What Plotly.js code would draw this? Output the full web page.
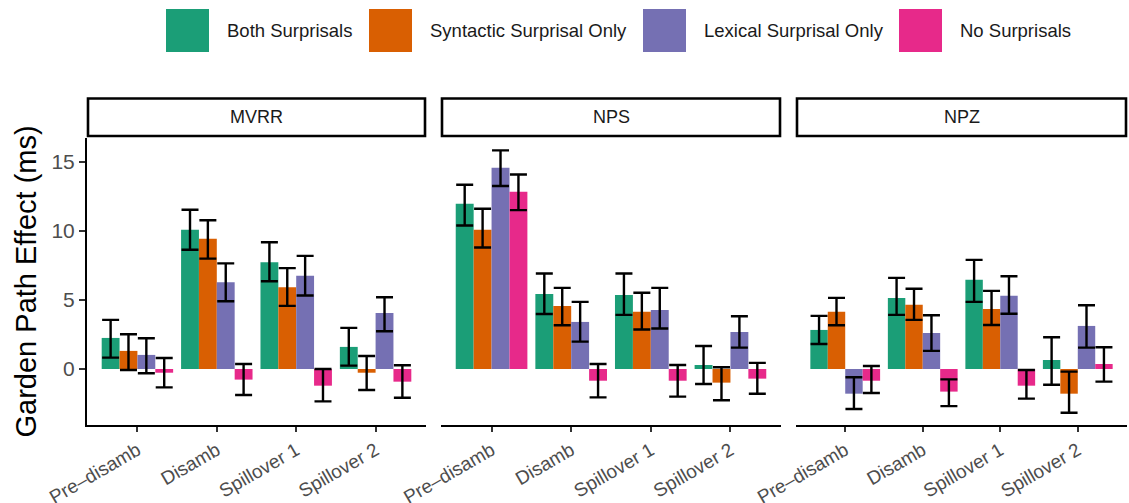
<!DOCTYPE html>
<html>
<head>
<meta charset="utf-8">
<script src="https://cdn.plot.ly/plotly-3.0.1.min.js"></script>
<style>html,body{margin:0;padding:0;background:#fff;}#chart{width:1129px;height:503px;}</style>
</head>
<body>
<div id="chart"></div>
<script>
// ---- data ----
const categories = ["Pre\u2013disamb", "Disamb", "Spillover 1", "Spillover 2"];
const panels = ["MVRR", "NPS", "NPZ"];
const seriesNames = ["Both Surprisals", "Syntactic Surprisal Only", "Lexical Surprisal Only", "No Surprisals"];
const seriesColors = ["#1B9E77", "#D95F02", "#7570B3", "#E7298A"];

// rows: Both, Syntactic, Lexical, None ; columns: categories
const MVRR_mean = [
  [2.25, 10.09, 7.74, 1.60],
  [1.31, 9.43, 5.93, -0.27],
  [1.02, 6.29, 6.75, 4.06],
  [-0.27, -0.77, -1.21, -0.92]
];
const MVRR_lo = [
  [0.82, 8.64, 6.36, 0.24],
  [-0.07, 8.00, 4.57, -1.52],
  [-0.31, 4.91, 5.32, 2.73],
  [-1.33, -1.89, -2.35, -2.08]
];
const MVRR_hi = [
  [3.56, 11.54, 9.19, 2.98],
  [2.52, 10.78, 7.31, 0.94],
  [2.23, 7.65, 8.20, 5.20],
  [0.80, 0.36, 0.00, 0.27]
];

const NPS_mean = [
  [11.97, 5.44, 5.37, 0.29],
  [10.09, 4.57, 4.14, -0.99],
  [14.59, 3.41, 4.28, 2.68],
  [12.84, -0.85, -0.85, -0.70]
];
const NPS_lo = [
  [10.40, 3.99, 3.92, -1.09],
  [8.80, 3.17, 2.86, -2.27],
  [13.26, 1.98, 2.93, 1.55],
  [11.51, -2.06, -2.00, -1.79]
];
const NPS_hi = [
  [13.35, 6.92, 6.92, 1.67],
  [11.61, 5.88, 5.52, 0.12],
  [15.84, 4.86, 5.88, 3.82],
  [14.10, 0.36, 0.29, 0.44]
];

const NPZ_mean = [
  [2.83, 5.15, 6.46, 0.65],
  [4.14, 4.65, 4.35, -1.79],
  [-1.79, 2.61, 5.30, 3.12],
  [-0.85, -1.64, -1.21, 0.36]
];
const NPZ_lo = [
  [1.81, 3.92, 4.86, -1.14],
  [3.17, 3.56, 3.19, -3.17],
  [-2.90, 1.31, 4.00, 1.55],
  [-1.74, -2.69, -2.15, -0.92]
];
const NPZ_hi = [
  [3.85, 6.60, 7.91, 2.30],
  [5.15, 5.81, 5.66, -0.19],
  [-0.60, 3.89, 6.72, 4.62],
  [0.22, -0.75, -0.07, 1.57]
];

const yTickVals = [0, 5, 10, 15];

// ---- layout constants (pixels) ----
const W = 1129, H = 503;
const M = {l: 87, r: 2, t: 97, b: 78};
const plotW = W - M.l - M.r, plotH = H - M.t - M.b;
const px2x = p => (p - M.l) / plotW;
const px2y = p => (H - M.b - p) / plotH;
const panelPx = [[87, 426], [441, 781], [796, 1127]];
const panelTopPx = 138, stripTopPx = 97, stripBotPx = 136;
const legendSqX = [166, 369, 643, 899], legendSqTop = 9, legendSq = 43, legendGap = 16;

const means = [MVRR_mean, NPS_mean, NPZ_mean];
const los = [MVRR_lo, NPS_lo, NPZ_lo];
const his = [MVRR_hi, NPS_hi, NPZ_hi];

const traces = [];
panels.forEach((p, pi) => {
  const ax = pi === 0 ? "" : String(pi + 1);
  seriesNames.forEach((s, si) => {
    const m = means[pi][si], lo = los[pi][si], hi = his[pi][si];
    traces.push({
      type: "bar",
      name: s,
      x: categories,
      y: m,
      xaxis: "x" + ax,
      yaxis: "y" + ax,
      marker: {color: seriesColors[si], line: {width: 0}},
      showlegend: false,
      hoverinfo: "x+y+name",
      error_y: {
        type: "data", symmetric: false,
        array: hi.map((h, i) => h - m[i]),
        arrayminus: lo.map((l, i) => m[i] - l),
        color: "#000", thickness: 2.4, width: 8.5
      }
    });
  });
});

const yRange = [-4.06, 16.74];
const layout = {
  width: W, height: H,
  margin: M,
  paper_bgcolor: "#fff", plot_bgcolor: "rgba(0,0,0,0)",
  barmode: "group", bargap: 0.1, bargroupgap: 0,
  font: {family: "Liberation Sans, Arial, sans-serif", color: "#1a1a1a"},
  showlegend: false,
  shapes: [], annotations: []
};

panels.forEach((p, pi) => {
  const ax = pi === 0 ? "" : String(pi + 1);
  layout["xaxis" + ax] = {
    domain: [px2x(panelPx[pi][0]), px2x(panelPx[pi][1])],
    anchor: "y" + ax,
    type: "category",
    categoryorder: "array", categoryarray: categories,
    range: [-0.635, 3.635],
    showline: true, linecolor: "#000", linewidth: 2,
    ticks: "outside", ticklen: 5, tickwidth: 2, tickcolor: "#333",
    tickangle: -30,
    tickfont: {size: 19, color: "#4d4d4d", family: "Liberation Sans, Arial, sans-serif"},
    showgrid: false, zeroline: false, fixedrange: true
  };
  layout["yaxis" + ax] = {
    domain: [0, px2y(panelTopPx)],
    anchor: "x" + ax,
    range: yRange,
    showgrid: false, zeroline: false, fixedrange: true,
    showline: pi === 0, linecolor: "#000", linewidth: 2,
    ticks: pi === 0 ? "outside" : "", ticklen: 6, tickwidth: 2, tickcolor: "#333",
    tickvals: yTickVals, ticktext: yTickVals.map(String),
    showticklabels: pi === 0,
    tickfont: {size: 21, color: "#4d4d4d", family: "Liberation Sans, Arial, sans-serif"}
  };
  // strip
  layout.shapes.push({
    type: "rect", xref: "paper", yref: "paper",
    x0: px2x(panelPx[pi][0] + 1), x1: px2x(panelPx[pi][1] - 1),
    y0: px2y(stripBotPx), y1: px2y(stripTopPx + 1.5),
    fillcolor: "#fff", line: {color: "#000", width: 2.6}
  });
  layout.annotations.push({
    xref: "paper", yref: "paper",
    x: px2x((panelPx[pi][0] + panelPx[pi][1]) / 2),
    y: px2y((stripTopPx + stripBotPx) / 2),
    text: p, showarrow: false, xanchor: "center", yanchor: "middle",
    font: {size: 18, color: "#1a1a1a"}
  });
});

// y title
layout.annotations.push({
  xref: "paper", yref: "paper",
  x: px2x(25), y: px2y((panelTopPx + H - M.b) / 2),
  text: "Garden Path Effect (ms)", textangle: -90, showarrow: false,
  xanchor: "center", yanchor: "middle",
  font: {size: 29, color: "#000"}
});

// legend
seriesNames.forEach((s, si) => {
  const x0 = legendSqX[si];
  layout.shapes.push({
    type: "rect", xref: "paper", yref: "paper",
    x0: px2x(x0), x1: px2x(x0 + legendSq),
    y0: px2y(legendSqTop + legendSq), y1: px2y(legendSqTop),
    fillcolor: seriesColors[si], line: {width: 0}
  });
  layout.annotations.push({
    xref: "paper", yref: "paper",
    x: px2x(x0 + legendSq + legendGap), y: px2y(legendSqTop + legendSq / 2),
    text: s, showarrow: false, xanchor: "left", yanchor: "middle",
    font: {size: 18.5, color: "#1a1a1a"}
  });
});

Plotly.newPlot("chart", traces, layout, {staticPlot: true, displayModeBar: false});
</script>
</body>
</html>
